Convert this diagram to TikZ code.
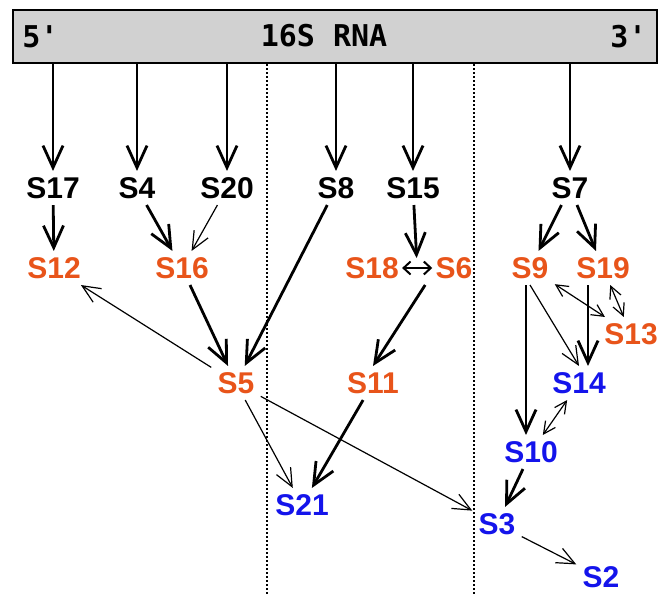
\documentclass[tikz,border=0pt]{standalone}
\usepackage{fontspec}
\newfontfamily\protfont{Liberation Sans}
\newfontfamily\rnafont{DejaVu Sans Mono}
\usetikzlibrary{arrows.meta,calc}
\definecolor{secorange}{RGB}{232,84,26}
\definecolor{terblue}{RGB}{20,20,235}

\begin{document}
\begin{tikzpicture}[
    x=0.5pt, y=-0.5pt,
    prot/.style={font=\protfont\bfseries\fontsize{15}{18}\selectfont, inner sep=3pt},
    primary/.style={prot, text=black},
    secondary/.style={prot, text=secorange},
    tertiary/.style={prot, text=terblue},
    rnabox/.style={draw, line width=1pt, fill=black!18, minimum width=322pt, minimum height=26.5pt, inner sep=0pt},
    rnalabel/.style={font=\rnafont\bfseries\fontsize{15}{18}\selectfont, inner sep=0pt},
    strong/.style={line width=1.4pt, -{Straight Barb[length=11pt,width=10pt]}},
    weak/.style={line width=0.6pt, -{Straight Barb[length=9pt,width=8pt]}},
    mutual/.style={line width=0.6pt, {Straight Barb[length=6pt,width=6pt]}-{Straight Barb[length=6pt,width=6pt]}},
    pairing/.style={line width=1pt, shorten <=-1.5pt, shorten >=-1.5pt,
        {Straight Barb[length=3.5pt,width=6.5pt]}-{Straight Barb[length=3.5pt,width=6.5pt]}},
    boundary/.style={line width=1pt, dash pattern=on 1pt off 1pt}
]
    \useasboundingbox (0,0) rectangle (668,595);

    \draw[boundary] (267,64) -- (267,595);
    \draw[boundary] (474,64) -- (474,595);

    \node[rnabox] (rna) at (335,36.5) {};
    \node[rnalabel] (rnaname) at (324,36) {16S RNA};
    \node[rnalabel, anchor=west] (five) at ([xshift=5pt]rna.west) {5\textquotesingle};
    \node[rnalabel, anchor=east] (three) at ([xshift=-5.5pt]rna.east) {3\textquotesingle};

    \node[primary] (s17) at (53,188) {S17};
    \node[primary] (s4) at (137,188) {S4};
    \node[primary] (s20) at (227,188) {S20};
    \node[primary] (s8) at (336,188) {S8};
    \node[primary] (s15) at (413,188) {S15};
    \node[primary] (s7) at (570,188) {S7};

    \node[secondary] (s12) at (54,268) {S12};
    \node[secondary] (s16) at (182,268) {S16};
    \node[secondary] (s18) at (372,268) {S18};
    \node[secondary] (s6) at (454,268) {S6};
    \node[secondary] (s9) at (530,268) {S9};
    \node[secondary] (s19) at (603,268) {S19};
    \node[secondary] (s13) at (631,334) {S13};
    \node[secondary] (s5) at (236,383) {S5};
    \node[secondary] (s11) at (373,383) {S11};

    \node[tertiary] (s14) at (579,383) {S14};
    \node[tertiary] (s10) at (531,452) {S10};
    \node[tertiary] (s21) at (302,505) {S21};
    \node[tertiary] (s3) at (497,524) {S3};
    \node[tertiary] (s2) at (601,577) {S2};

    \coordinate (pairmid) at ($(s18.east)!0.5!(s6.west)$);
    \coordinate (pairfoot) at ($(pairmid)+(8,17)$);

    \foreach \p in {s17,s4,s20,s8,s15,s7}
        \draw[strong] (rna.south -| \p) -- (\p);

    \draw[strong] (s17) -- (s12);
    \draw[strong] (s4) -- (s16);
    \draw[weak] (s20) -- (s16);
    \draw[strong] (s16) -- (s5);
    \draw[strong] (s8) -- (s5);
    \draw[weak] (s5) -- (s12);
    \draw[weak] (s5) -- (s21);
    \draw[weak] (s5) -- (s3);
    \draw[pairing] (s18) -- (s6);
    \draw[strong, shorten >=5pt] (s15) -- (pairmid);
    \draw[strong] (pairfoot) -- (s11.north);
    \draw[strong] (s11) -- (s21);
    \draw[strong] (s7) -- (s9);
    \draw[strong] (s7) -- (s19);
    \draw[strong] ([xshift=-2pt]s9.south) -- ([xshift=-2.5pt]s10.north);
    \draw[strong] ([xshift=-7.5pt]s19.south) -- ([xshift=4.5pt]s14.north);
    \draw[weak] (s9.south) -- (s14.north);
    \draw[mutual] (s9) -- (s13);
    \draw[mutual] (s19) -- (s13);
    \draw[mutual] (s14) -- (s10);
    \draw[strong] (s10) -- (s3);
    \draw[weak] (s3) -- (s2);
\end{tikzpicture}
\end{document}
